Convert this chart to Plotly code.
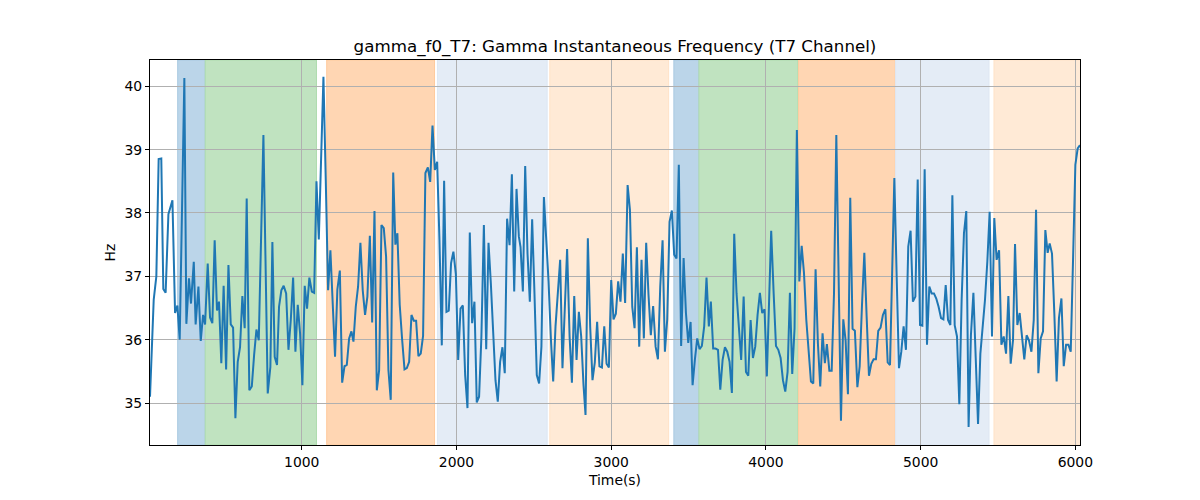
import plotly.graph_objects as go

# ---- data ----
time_s = [
    19, 43, 60, 75, 92, 105, 120, 138, 164, 181, 196, 211, 241, 254, 271, 284, 302, 314, 332, 347,
    362, 375, 392, 407, 422, 437, 452, 465, 480, 495, 511, 526, 541, 556, 571, 586, 601, 616, 631, 644,
    661, 677, 692, 707, 722, 752, 780,
    797, 810, 825, 840, 853, 868, 883, 899, 914, 929, 944, 959, 974, 989, 1004, 1019, 1034, 1049, 1065, 1080,
    1095, 1110, 1125, 1140, 1155, 1170, 1185, 1200, 1215, 1230, 1246, 1261, 1276, 1291, 1306, 1321, 1334, 1349,
    1364, 1379, 1394, 1409, 1424, 1440, 1455, 1470, 1485, 1500, 1515, 1530, 1545, 1560, 1575, 1591,
    1605, 1618, 1633, 1649, 1664, 1679, 1694, 1709, 1724, 1739, 1754, 1769, 1784, 1799, 1815, 1830, 1845, 1860,
    1875, 1890, 1905, 1920, 1935, 1950, 1965, 1980, 1996, 2011, 2026, 2041, 2056, 2071, 2086, 2101, 2116, 2131,
    2146, 2161, 2177, 2192, 2207, 2222, 2237, 2252, 2267, 2282, 2297, 2312, 2327, 2343, 2358, 2373, 2388, 2403,
    2414, 2429, 2444, 2459, 2474, 2489, 2504, 2519, 2534, 2549, 2565, 2580, 2595, 2610, 2625, 2640, 2655, 2670,
    2685, 2700, 2715, 2731, 2746, 2761, 2776, 2791, 2806, 2821, 2834, 2849, 2864, 2879, 2894, 2909, 2924, 2940,
    2955, 2970, 2985, 3000, 3015, 3030, 3045, 3060, 3075, 3090, 3106, 3121, 3136, 3151, 3166, 3181, 3196, 3211,
    3226, 3241, 3256, 3271, 3287, 3302, 3317, 3332, 3347, 3362, 3377, 3392, 3407, 3422, 3437, 3452, 3468, 3483,
    3498, 3513, 3526, 3541, 3556, 3571, 3586, 3601, 3616, 3631, 3644, 3659, 3674, 3690, 3705, 3720, 3735, 3750,
    3765, 3780, 3795, 3810, 3825, 3840, 3856, 3871, 3886, 3901, 3916, 3931, 3946, 3961, 3976, 3991, 4006,
    4034, 4050, 4065, 4080, 4095, 4110, 4125, 4140, 4155, 4170, 4185, 4200, 4216, 4231, 4246, 4261, 4276, 4291,
    4306, 4321, 4336, 4351, 4366, 4381, 4394, 4410, 4425, 4440, 4455, 4470, 4485, 4500, 4515, 4530, 4545, 4560,
    4575, 4591, 4606, 4621, 4636, 4651, 4666, 4681, 4696, 4711, 4726, 4741, 4756, 4772, 4787, 4802, 4817, 4830,
    4845, 4860, 4875, 4890, 4905, 4920, 4935, 4950, 4966, 4981, 4996, 5011, 5026, 5041, 5056, 5071, 5086, 5101,
    5116, 5132, 5147, 5162, 5177, 5192, 5205, 5220, 5235, 5250, 5265, 5280, 5295, 5310, 5325, 5341, 5356, 5371,
    5386, 5401, 5416, 5431, 5446, 5461, 5476, 5491, 5507, 5522, 5537, 5552, 5567, 5582, 5597, 5610, 5625, 5640,
    5655, 5670, 5685, 5700, 5716, 5731, 5746, 5761, 5776, 5791, 5806, 5821, 5834, 5849, 5864, 5879, 5894, 5910,
    5925, 5940, 5955, 5970, 5985, 6000, 6015, 6030,
]

freq_hz = [
    35.1, 36.63, 37.0, 38.85, 38.86, 36.8, 36.74, 37.98, 38.2, 36.42, 36.54, 36.0, 40.13, 36.25, 36.97, 36.57,
    37.23, 36.24, 36.84, 35.98, 36.39, 36.24, 37.2, 36.35, 36.26, 37.57, 36.46, 36.6, 35.63, 36.85, 35.53, 37.18,
    36.24, 36.19, 34.76, 35.65, 35.88, 36.69, 36.18, 38.23, 35.2, 35.26, 35.76, 36.16, 35.99, 39.23, 35.15,
    35.57, 37.54, 35.73, 35.6, 36.52, 36.78, 36.85, 36.73, 35.84, 36.31, 36.98, 35.81, 36.55, 36.1, 35.28, 36.85,
    36.49, 36.98, 36.76, 36.74, 38.5, 37.58, 39.1, 40.15, 38.52, 36.78, 37.41, 36.42, 35.73, 36.79, 37.09, 35.32,
    35.58, 35.6, 36.02, 36.13, 35.97, 36.52, 36.84, 37.53, 36.78, 36.39, 36.68, 37.64, 36.27, 38.03, 35.2, 35.52,
    37.81, 37.76, 37.31, 35.52, 35.05, 38.64,
    37.5, 37.68, 36.55, 35.99, 35.53, 35.55, 35.65, 36.39, 36.3, 36.3, 35.74, 35.78, 36.06, 38.63, 38.72, 38.49,
    39.38, 38.68, 38.81, 37.57, 35.91, 38.51, 36.44, 36.46, 37.21, 37.39, 37.03, 35.68, 36.49, 36.54, 35.44, 34.92,
    37.69, 36.26, 36.6, 35.01, 35.1, 36.05, 37.81, 35.85, 37.53, 36.89, 36.15, 35.36, 35.02, 35.65, 35.88, 35.47,
    37.91, 37.49, 38.61, 36.76, 38.38, 37.63,
    37.46, 36.76, 38.74, 37.36, 36.6, 37.9, 36.73, 35.44, 35.31, 35.89, 38.25, 37.65, 36.92, 36.02, 35.34, 36.21,
    36.68, 37.26, 35.55, 36.42, 37.43, 36.05, 35.32, 36.69, 35.68, 36.44, 36.05, 35.28, 34.81, 37.6, 36.21, 35.36,
    35.64, 36.28, 35.58, 35.56, 36.21, 35.62, 35.56, 36.94, 36.32, 36.41, 36.92, 36.6, 37.36, 36.58, 38.44, 38.05,
    36.52, 36.18, 37.46, 35.89, 37.26, 36.02,
    37.53, 36.71, 36.07, 36.53, 35.89, 35.69, 36.84, 37.57, 35.81, 36.32, 37.86, 38.04, 37.34, 37.28, 38.76, 35.9,
    37.29, 36.42, 35.95, 36.28, 35.28, 35.69, 36.02, 35.85, 35.9, 36.21, 36.98, 36.21, 36.6, 35.86, 35.86, 35.84,
    35.21, 35.68, 35.88, 35.81, 35.65, 35.16, 37.67, 36.73, 36.15, 35.68, 36.68, 35.49, 35.43, 36.31, 35.71, 35.89,
    36.39, 36.74, 36.42, 36.48, 35.42,
    37.72, 36.73, 35.9, 35.84, 35.71, 35.36, 35.18, 35.49, 36.74, 35.46, 36.18, 39.31, 36.92, 37.48, 37.05, 36.31,
    35.78, 35.34, 35.31, 37.11, 35.94, 35.26, 36.1, 35.63, 35.93, 35.51, 35.51, 36.73, 39.23, 37.05, 34.72, 36.32,
    35.99, 35.14, 38.24, 36.17, 36.14, 35.25, 35.58, 36.55, 37.37, 36.36, 35.43, 35.62, 35.69, 35.69, 36.14, 36.19,
    36.39, 36.48, 35.64, 35.6, 37.06, 38.55,
    37.0, 35.55, 35.81, 36.21, 35.84, 37.47, 37.72, 36.6, 36.68, 38.53, 36.23, 36.22, 38.69, 35.92, 36.84, 36.73,
    36.73, 36.65, 36.52, 36.34, 36.32, 36.86, 36.31, 36.23, 38.28, 36.23, 36.05, 34.98, 36.63, 37.68, 38.03, 34.62,
    36.07, 36.74, 35.71, 34.67, 35.78, 36.18, 36.63, 37.23, 38.02, 36.05, 37.92, 37.26, 37.41, 35.92, 36.05, 35.78,
    36.69, 35.62, 35.99, 37.51, 36.23, 36.42,
    35.99, 35.69, 36.07, 35.99, 35.81, 36.31, 38.05, 35.47, 36.02, 36.13, 37.73, 37.37, 37.52, 37.36, 36.42, 35.34,
    36.34, 36.65, 35.58, 35.92, 35.92, 35.81, 37.26, 38.76, 39.02, 39.07,
]

assert len(time_s) == len(freq_hz), (len(time_s), len(freq_hz))

# shaded phases (start, end, kind)
span_start = [198, 376, 1161, 1877, 2603, 3405, 3567, 4211, 4838, 5474]
span_end = [376, 1095, 1858, 2586, 3371, 3567, 4207, 4836, 5442, 6060]
span_kind = ["blue", "green", "orange", "blue_light", "orange_light",
             "blue", "green", "orange", "blue_light", "orange_light"]

span_fill = {
    "blue": "#bbd5e9",
    "green": "#c0e3c0",
    "orange": "#ffd6b3",
    "blue_light": "#e4ecf6",
    "orange_light": "#ffead6",
}
span_edge = {
    "blue": "#a9c9e1",
    "green": "#addbad",
    "orange": "#ffcb9d",
    "blue_light": "#dde7f3",
    "orange_light": "#ffe2c7",
}

fig = go.Figure()

for s, e, k in zip(span_start, span_end, span_kind):
    fig.add_vrect(x0=s, x1=e, fillcolor=span_fill[k], opacity=1.0, layer="below",
                  line=dict(color=span_edge[k], width=1))

fig.add_trace(go.Scatter(x=time_s, y=freq_hz, mode="lines",
                         line=dict(color="#1f77b4", width=2), showlegend=False))

axis_common = dict(
    showline=True, linecolor="black", linewidth=1, mirror=True,
    ticks="outside", ticklen=4, tickcolor="black", tickwidth=1,
    showgrid=True, gridcolor="#b0b0b0", gridwidth=1,
    zeroline=False,
    tickfont=dict(family="DejaVu Sans", size=13.9, color="black"),
)

fig.update_xaxes(range=[time_s[0], time_s[-1]], tickmode="array",
                 tickvals=[1000, 2000, 3000, 4000, 5000, 6000],
                 title=dict(text="Time(s)", font=dict(family="DejaVu Sans", size=13.9, color="black"),
                            standoff=6),
                 **axis_common)
fig.update_yaxes(range=[34.337, 40.415], tickmode="array",
                 tickvals=[35, 36, 37, 38, 39, 40],
                 title=dict(text="Hz", font=dict(family="DejaVu Sans", size=13.9, color="black"),
                            standoff=5),
                 **axis_common)

fig.update_layout(
    width=1200, height=500,
    margin=dict(l=150, r=120, t=60, b=55),
    paper_bgcolor="white", plot_bgcolor="white",
    title=dict(text="gamma_f0_T7: Gamma Instantaneous Frequency (T7 Channel)",
               x=(150 + 1080) / 2 / 1200, xanchor="center", y=1 - 46 / 500, yanchor="middle",
               font=dict(family="DejaVu Sans", size=16.7, color="black")),
    font=dict(family="DejaVu Sans", color="black"),
)

fig.write_html("out.html", config={"displayModeBar": False},
               post_script="document.body.style.margin='0';document.body.style.padding='0';")
